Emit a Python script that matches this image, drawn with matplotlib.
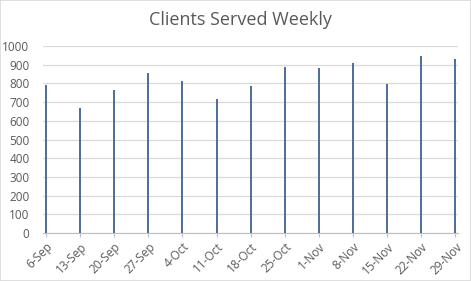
import matplotlib
matplotlib.use("Agg")
import matplotlib.pyplot as plt
import matplotlib.dates as mdates
from matplotlib.patches import Rectangle
import numpy as np
import datetime as dt

# weekly data
weeks = ["2020-09-06", "2020-09-13", "2020-09-20", "2020-09-27", "2020-10-04",
         "2020-10-11", "2020-10-18", "2020-10-25", "2020-11-01", "2020-11-08",
         "2020-11-15", "2020-11-22", "2020-11-29"]
clients = [790, 670, 764, 857, 814, 714, 788, 888, 882, 909, 796, 948, 932]
week_labels = ["6-Sep", "13-Sep", "20-Sep", "27-Sep", "4-Oct", "11-Oct", "18-Oct",
               "25-Oct", "1-Nov", "8-Nov", "15-Nov", "22-Nov", "29-Nov"]
yticks = list(range(0, 1001, 100))

dates = [dt.datetime.strptime(w, "%Y-%m-%d") for w in weeks]
txt = "#595959"
plt.rcParams['font.family'] = ['Open Sans', 'DejaVu Sans']

fig = plt.figure(figsize=(4.71, 2.81), dpi=100)
fig.patches.append(Rectangle((0, 0), 1, 1, transform=fig.transFigure, fill=False,
                             edgecolor="#d9d9d9", lw=1.2))
ax = fig.add_axes([0.092, 0.170, 0.880, 0.667])

ax.bar(dates, clients, width=0.4, color="#50709a", zorder=3)

ax.set_ylim(0, 1000)
ax.set_yticks(yticks)
ax.set_xlim(mdates.date2num(dates[0]) - 0.55, mdates.date2num(dates[-1]) + 0.5)
ax.set_xticks(dates)
ax.set_xticklabels(week_labels, rotation=45, ha="right", rotation_mode="anchor",
                   fontsize=8.5, color=txt)
ax.tick_params(axis="y", length=0, labelsize=8.5, labelcolor=txt, pad=10)
ax.tick_params(axis="x", length=3, color="#bfbfbf", pad=2)
ax.grid(axis="y", color="#d9d9d9", lw=0.9, zorder=0)
for s in ["left", "right", "top"]:
    ax.spines[s].set_visible(False)
ax.spines["bottom"].set_color("#bfbfbf")

fig.text(0.51, 0.928, "Clients Served Weekly", ha="center", va="center",
         fontsize=13, color=txt)

fig.savefig("out.png", dpi=100)
